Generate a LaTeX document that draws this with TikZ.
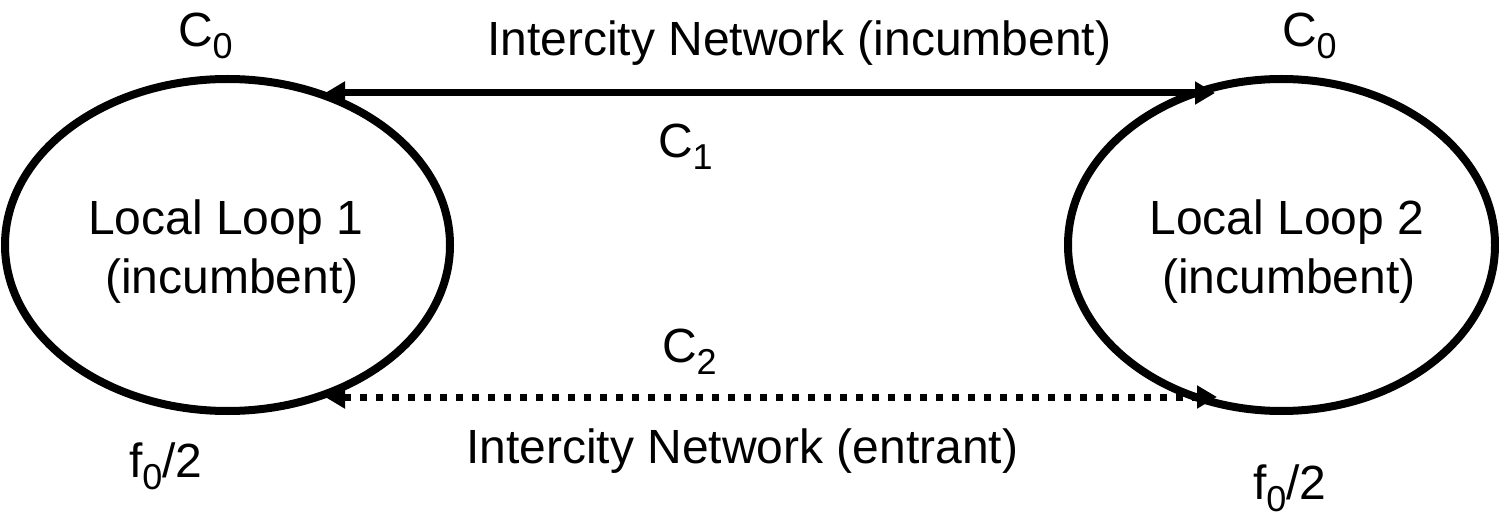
\documentclass[tikz,border=0pt]{standalone}
\usepackage{fontspec}
\setmainfont{Liberation Sans}
\usetikzlibrary{arrows.meta,shapes.geometric}
\newcommand{\lowsub}[1]{\raisebox{-6pt}{\fontsize{18pt}{18pt}\selectfont #1}}
\begin{document}
\begin{tikzpicture}[x=0.5pt,y=-0.5pt,
  every node/.style={font=\fontsize{24pt}{28.8pt}\selectfont, inner sep=0pt, outer sep=0pt},
  loopnode/.style={draw, ellipse, line width=4pt, minimum height=166pt},
  link/.style={line width=3.5pt, {Triangle[length=10pt,width=11pt]}-{Triangle[length=10pt,width=11pt]}},
  dotlink/.style={link, dash pattern=on 3.5pt off 4.5pt}
]
\useasboundingbox (0,0) rectangle (1499,518);

\node[loopnode, minimum width=222.5pt] (L1) at (227.5,245) {};
\node[loopnode, minimum width=213.5pt] (L2) at (1281.5,245) {};

\node[anchor=base] (t1) at (225.5,235) {Local Loop 1};
\node[anchor=base] (t1b) at (232,293) {(incumbent)};
\node[anchor=base] (t2) at (1287,235) {Local Loop 2};
\node[anchor=base] (t2b) at (1289,293) {(incumbent)};

\node[anchor=base west] (c0l) at (178,47) {C\lowsub{0}};
\node[anchor=base west] (c0r) at (1282,47) {C\lowsub{0}};
\node[anchor=base west] (c1) at (658,158) {C\lowsub{1}};
\node[anchor=base west] (c2) at (662,362) {C\lowsub{2}};
\node[anchor=base west] (inc) at (487,56) {Intercity Network (incumbent)};
\node[anchor=base west] (ent) at (466,463) {Intercity Network (entrant)};
\node[anchor=base west] (f1) at (129,477) {f\lowsub{0}/2};
\node[anchor=base west] (f2) at (1253,499) {f\lowsub{0}/2};

\coordinate (a1) at (325,93);
\coordinate (a2) at (1215,93);
\coordinate (b1) at (325,397);
\coordinate (b2) at (1217,397);
\draw[link] (a1) -- (a2);
\draw[dotlink] (b1) -- (b2);
\end{tikzpicture}
\end{document}
